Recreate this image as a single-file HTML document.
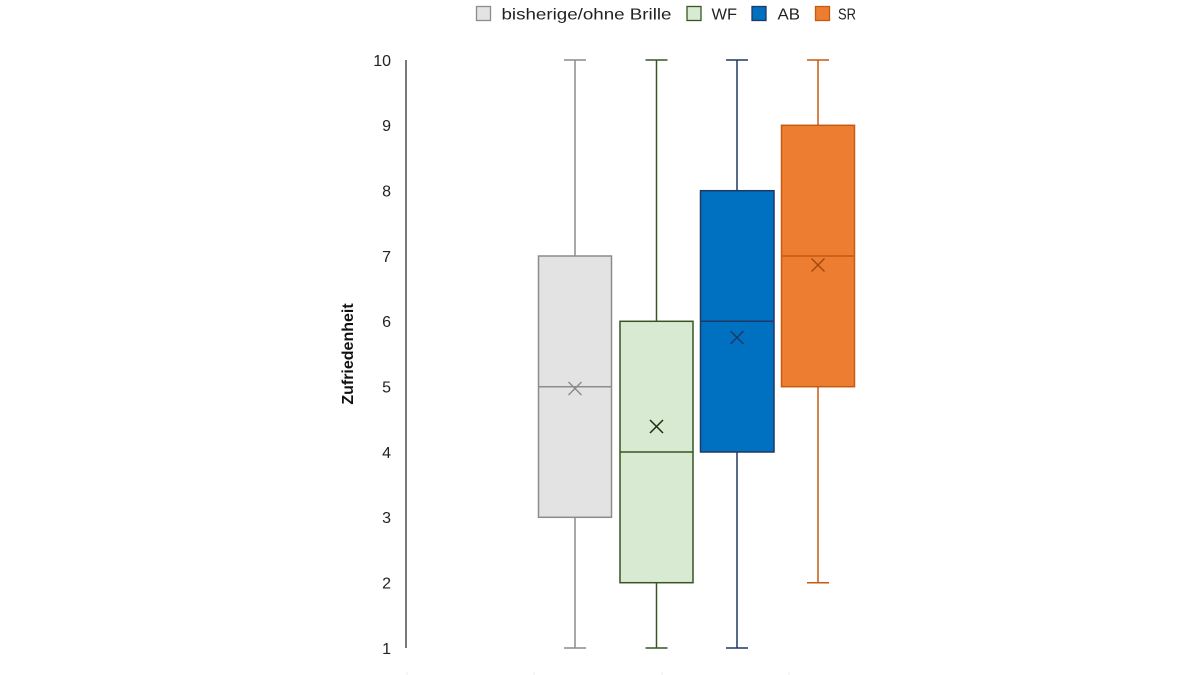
<!DOCTYPE html>
<html><head><meta charset="utf-8"><style>
html,body{margin:0;padding:0;background:#fff;}
svg{display:block;}
text{font-family:"Liberation Sans",sans-serif;}
</style></head><body>
<svg width="1200" height="675" viewBox="0 0 1200 675" xmlns="http://www.w3.org/2000/svg">
<rect width="1200" height="675" fill="#fff"/>
<!-- legend -->
<rect x="476.5" y="6.5" width="14" height="14" fill="#e3e3e3" stroke="#8c8c8c" stroke-width="1.3"/>
<text x="501.5" y="19.5" font-size="16" fill="#222" textLength="170" lengthAdjust="spacingAndGlyphs">bisherige/ohne Brille</text>
<rect x="687" y="6.5" width="14" height="14" fill="#d9ead3" stroke="#375623" stroke-width="1.3"/>
<text x="711.5" y="19.5" font-size="16" fill="#222" textLength="25.5" lengthAdjust="spacingAndGlyphs">WF</text>
<rect x="752" y="6.5" width="14" height="14" fill="#0070c0" stroke="#203864" stroke-width="1.3"/>
<text x="777.5" y="19.5" font-size="16" fill="#222" textLength="22.5" lengthAdjust="spacingAndGlyphs">AB</text>
<rect x="815.5" y="6.5" width="14" height="14" fill="#ed7d31" stroke="#c55a11" stroke-width="1.3"/>
<text x="838" y="19.5" font-size="16" fill="#222" textLength="18" lengthAdjust="spacingAndGlyphs">SR</text>

<!-- y axis -->
<line x1="406" y1="60" x2="406" y2="648" stroke="#333" stroke-width="1.3"/>
<g font-size="16" fill="#222" text-anchor="end">
<text x="391" y="66">10</text>
<text x="391" y="131">9</text>
<text x="391" y="196.5">8</text>
<text x="391" y="262">7</text>
<text x="391" y="327">6</text>
<text x="391" y="392.5">5</text>
<text x="391" y="458">4</text>
<text x="391" y="523">3</text>
<text x="391" y="588.5">2</text>
<text x="391" y="654">1</text>
</g>
<text transform="translate(353,354) rotate(-90)" font-size="16" font-weight="bold" fill="#111" text-anchor="middle">Zufriedenheit</text>

<!-- faint bottom ticks -->
<g stroke="#ececec" stroke-width="1">
<line x1="407" y1="672" x2="407" y2="675"/>
<line x1="534" y1="672" x2="534" y2="675"/>
<line x1="662" y1="672" x2="662" y2="675"/>
<line x1="789" y1="672" x2="789" y2="675"/>
</g>

<!-- gray: min1 q1 3 med5 q3 7 max10 mean 4.97 -->
<g stroke="#8c8c8c" stroke-width="1.5" fill="none">
<line x1="575" y1="60" x2="575" y2="256"/>
<line x1="564" y1="60" x2="586" y2="60"/>
<line x1="575" y1="517.3" x2="575" y2="648"/>
<line x1="564" y1="648" x2="586" y2="648"/>
<rect x="538.5" y="256" width="73" height="261.3" fill="#e3e3e3"/>
<line x1="538.5" y1="386.7" x2="611.5" y2="386.7"/>
<path d="M568.5 382 L581.5 395 M581.5 382 L568.5 395"/>
</g>

<!-- green: min1 q1 2 med4 q3 6 max10 mean 4.4 -->
<g stroke="#375623" stroke-width="1.5" fill="none">
<line x1="656.5" y1="60" x2="656.5" y2="321.3"/>
<line x1="645.5" y1="60" x2="667.5" y2="60"/>
<line x1="656.5" y1="582.7" x2="656.5" y2="648"/>
<line x1="645.5" y1="648" x2="667.5" y2="648"/>
<rect x="620" y="321.3" width="73" height="261.4" fill="#d9ead3"/>
<line x1="620" y1="452" x2="693" y2="452"/>
<path d="M650 420 L663 433 M663 420 L650 433" stroke="#1a2e10"/>
</g>

<!-- blue: min1 q1 4 med6 q3 8 max10 mean 5.76 -->
<g stroke="#203864" stroke-width="1.5" fill="none">
<line x1="737" y1="60" x2="737" y2="190.7"/>
<line x1="726" y1="60" x2="748" y2="60"/>
<line x1="737" y1="452" x2="737" y2="648"/>
<line x1="726" y1="648" x2="748" y2="648"/>
<rect x="700.5" y="190.7" width="73.5" height="261.3" fill="#0070c0"/>
<line x1="700.5" y1="321.3" x2="774" y2="321.3"/>
<path d="M730.5 331 L743.5 344 M743.5 331 L730.5 344"/>
</g>

<!-- orange: min2 q1 5 med7 q3 9 max10 mean 6.86 -->
<g stroke="#c55a11" stroke-width="1.5" fill="none">
<line x1="818" y1="60" x2="818" y2="125.3"/>
<line x1="807" y1="60" x2="829" y2="60"/>
<line x1="818" y1="386.7" x2="818" y2="582.7"/>
<line x1="807" y1="582.7" x2="829" y2="582.7"/>
<rect x="781.5" y="125.3" width="73" height="261.4" fill="#ed7d31"/>
<line x1="781.5" y1="256" x2="854.5" y2="256"/>
<path d="M811.5 258.5 L824.5 271.5 M824.5 258.5 L811.5 271.5" stroke="#a5480d"/>
</g>
</svg>
</body></html>
